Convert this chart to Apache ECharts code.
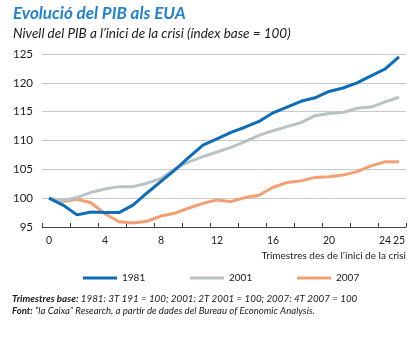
<!DOCTYPE html>
<html>
<head>
<meta charset="utf-8">
<script src="https://cdn.jsdelivr.net/npm/echarts@6/dist/echarts.min.js"></script>
<style>
  html, body { margin: 0; padding: 0; background: #ffffff; }
  #chart { width: 420px; height: 338px; }
</style>
</head>
<body>
<div id="chart"></div>
<script>
// Quarters since the start of each recession
const quarters = Array.from({ length: 26 }, (_, i) => String(i));
const labelledQuarters = [0, 4, 8, 12, 16, 20, 24, 25];
const yTicks = { min: 95, max: 125, step: 5 };

// GDP index (base = 100 at the start of the crisis)
const gdp1981 = [100, 98.8, 97.1, 97.6, 97.5, 97.5, 98.8, 100.9, 102.9, 104.9, 107.1, 109.2, 110.3,
  111.4, 112.3, 113.3, 114.8, 115.8, 116.8, 117.4, 118.5, 119.1, 120.0, 121.2, 122.4, 124.5];
const gdp2001 = [100, 99.6, 100.1, 101.0, 101.6, 102.0, 102.0, 102.6, 103.4, 105.1, 106.3, 107.2, 108.0,
  108.8, 109.8, 110.9, 111.7, 112.4, 113.1, 114.3, 114.7, 114.85, 115.6, 115.8, 116.7, 117.5];
const gdp2007 = [100, 99.4, 99.8, 99.2, 97.3, 95.9, 95.7, 96.0, 96.9, 97.4, 98.3, 99.1, 99.7,
  99.4, 100.1, 100.5, 101.9, 102.7, 103.0, 103.6, 103.7, 104.0, 104.6, 105.6, 106.3, 106.3];

const FONT = 'Lato';
const colors = { c1981: '#0d6db8', c2001: '#b9c3c5', c2007: '#f59e72' };

const chart = echarts.init(document.getElementById('chart'), null, { renderer: 'canvas' });

function legendAt(name, left) {
  return {
    data: [name], left: left, top: 268, icon: 'rect', itemWidth: 34, itemHeight: 3,
    itemGap: 0, textStyle: { fontFamily: FONT, fontSize: 10, color: '#222', padding: [0, 0, 0, 0] },
    selectedMode: false
  };
}

chart.setOption({
  backgroundColor: '#ffffff',
  animation: false,
  textStyle: { fontFamily: FONT },
  title: {
    text: 'Evolució del PIB als EUA',
    subtext: 'Nivell del PIB a l\u2019inici de la crisi (índex base = 100)',
    left: 8, top: 0, itemGap: 5,
    textStyle: { fontFamily: FONT, fontSize: 17, fontWeight: 'bold', fontStyle: 'italic', color: '#2382cf' },
    subtextStyle: { fontFamily: FONT, fontSize: 13.5, fontStyle: 'italic', color: '#1a1a1a' }
  },
  legend: [legendAt('1981', 78), legendAt('2001', 185), legendAt('2007', 292)],
  grid: { left: 42, right: 14, top: 54, bottom: 111, containLabel: false },
  xAxis: {
    type: 'category',
    data: quarters,
    boundaryGap: true,
    name: 'Trimestres des de l\u2019inici de la crisi',
    nameLocation: 'end',
    nameGap: 0,
    nameTextStyle: { fontFamily: FONT, fontSize: 10, color: '#222', align: 'right', verticalAlign: 'top', padding: [24, 0, 0, 0] },
    axisLine: { lineStyle: { color: '#444', width: 1 } },
    axisTick: { show: true, inside: true, length: 4, interval: i => i % 2 === 0, lineStyle: { color: '#444' } },
    axisLabel: {
      interval: i => labelledQuarters.indexOf(i) !== -1,
      margin: 8, fontFamily: FONT, fontSize: 10.5, color: '#222', hideOverlap: false
    },
    splitLine: { show: false }
  },
  yAxis: {
    type: 'value',
    min: yTicks.min, max: yTicks.max, interval: yTicks.step,
    axisLine: { show: false },
    axisTick: { show: false },
    axisLabel: { margin: 9, fontFamily: FONT, fontSize: 11.5, color: '#222' },
    splitLine: { lineStyle: { color: '#c9c9c9', width: 1 } }
  },
  series: [
    { name: '1981', type: 'line', data: gdp1981, symbol: 'none', z: 4,
      itemStyle: { color: colors.c1981 }, lineStyle: { color: colors.c1981, width: 3 } },
    { name: '2001', type: 'line', data: gdp2001, symbol: 'none', z: 3,
      itemStyle: { color: colors.c2001 }, lineStyle: { color: colors.c2001, width: 3 } },
    { name: '2007', type: 'line', data: gdp2007, symbol: 'none', z: 2,
      itemStyle: { color: colors.c2007 }, lineStyle: { color: colors.c2007, width: 3 } }
  ],
  graphic: [
    {
      type: 'text', left: 12, top: 294,
      style: {
        text: '{b|Trimestres base:} 1981: 3T 191 = 100; 2001: 2T 2001 = 100; 2007: 4T 2007 = 100',
        font: 'italic 9.8px ' + FONT, fill: '#1a1a1a',
        rich: { b: { fontWeight: 'bold', fontStyle: 'italic', fontFamily: FONT, fontSize: 9.8, fill: '#1a1a1a' } }
      }
    },
    {
      type: 'text', left: 12, top: 306,
      style: {
        text: '{b|Font:} \u201Cla Caixa\u201D Research, a partir de dades del Bureau of Economic Analysis.',
        font: 'italic 9.6px ' + FONT, fill: '#1a1a1a',
        rich: { b: { fontWeight: 'bold', fontStyle: 'italic', fontFamily: FONT, fontSize: 9.6, fill: '#1a1a1a' } }
      }
    }
  ]
});
</script>
</body>
</html>
